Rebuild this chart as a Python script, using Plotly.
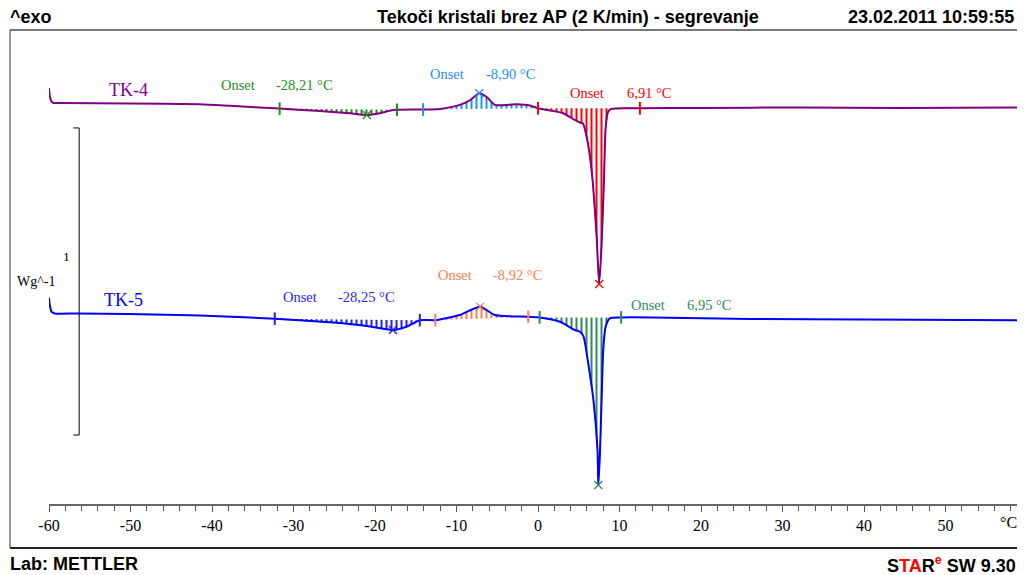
import numpy as np
import plotly.graph_objects as go

# ---------------- data ----------------
# TK-4 curve: temperature (°C) and heat flow (W/g, relative)
temp4 = [-60.0, -59.9, -59.7, -59.5, -58.7, -50.1, -41.5, -37.8, -31.7, -27.2,
         -23.1, -21.0, -19.4, -18.2, -17.3, -14.1, -12.0, -9.6, -8.3, -7.2,
         -6.3, -5.3, -2.6, -1.0, 0.0, 1.5, 3.1, 4.5, 5.2, 5.5,
         6.0, 6.6, 7.2, 7.5, 7.8, 8.1, 8.3, 8.6, 9.0, 12.5,
         19.9, 32.1, 44.4, 59.1]
hf4 = [0.065, 0.039, 0.021, 0.017, 0.016, 0.015, 0.012, 0.007, -0.002, -0.009,
       -0.017, -0.023, -0.017, -0.009, -0.006, -0.005, -0.003, 0.010, 0.026, 0.048,
       0.036, 0.010, 0.012, 0.008, -0.001, -0.008, -0.017, -0.039, -0.048, -0.050,
       -0.098, -0.208, -0.423, -0.573, -0.446, -0.228, -0.065, -0.012, -0.003, -0.001,
       0.000, 0.002, 0.000, 0.002]

# TK-5 curve
temp5 = [-60.0, -59.9, -59.7, -59.3, -56.4, -44.2, -41.5, -32.3, -25.1, -21.0,
         -17.8, -16.1, -14.5, -12.6, -9.6, -7.1, -5.3, -1.2, 0.2, 2.7,
         4.5, 5.2, 5.6, 6.1, 6.8, 7.3, 7.4, 7.6, 7.8, 8.0,
         8.3, 8.8, 10.2, 14.0, 26.0, 40.0, 59.1]
hf5 = [0.066, 0.042, 0.021, 0.015, 0.015, 0.010, 0.008, -0.002, -0.015, -0.026,
       -0.039, -0.028, -0.007, -0.007, 0.010, 0.037, 0.010, 0.004, 0.002, -0.012,
       -0.039, -0.045, -0.061, -0.137, -0.267, -0.430, -0.544, -0.440, -0.267, -0.104,
       -0.028, -0.001, 0.002, 0.002, -0.003, -0.005, -0.007]

# integration limits (°C) and onset results
limits4 = [(-31.7, -17.3), (-14.1, 0.0), (0.0, 12.5)]
limits5 = [(-32.3, -14.5), (-12.6, -1.2), (0.2, 10.2)]
onset4 = [-28.21, -8.90, 6.91]
onset5 = [-28.25, -8.92, 6.95]

x_ticks = [-60, -50, -40, -30, -20, -10, 0, 10, 20, 30, 40, 50]
x_tick_text = ["-60", "-50", "-40", "-30", "-20", "-10", "0", "10", "20", "30", "40", "50"]
scale_bar = 1.0  # W/g

# ---------------- styling ----------------
C4 = "#800080"
C5 = "#0000FF"
cols4 = ["#228B22", "#1E90FF", "#FF0000"]
cols5 = ["#1F1FFF", "#FF7F50", "#2E8B57"]
off4 = 0.684  # vertical display offset of TK-4
SERIF = "Liberation Serif"
SANS = "Liberation Sans"
SMOOTH = 0.6

# the page body has an 8px default margin: the figure is shifted by it
OFF = 8
FW, FH = 1025 - OFF, 575 - OFF
# plot area in page pixels
PX0, PX1, PY0, PY1 = 49, 1020, 30, 548
L, R, T_, B = PX0 - OFF, FW - (PX1 - OFF), PY0 - OFF, FH - (PY1 - OFF)
PW, PH = PX1 - PX0, PY1 - PY0


def px(xp):
    return (xp - PX0) / PW


def py(yp):
    return (PY1 - yp) / PH


fig = go.Figure()


def add_curve(T, H, off, col, limits, cols):
    T = np.array(T)
    H = np.array(H) + off
    # hatched integration areas
    for (a, b), c in zip(limits, cols):
        m = (T >= a - 1e-9) & (T <= b + 1e-9)
        ts, hs = T[m], H[m]
        fig.add_trace(go.Scatter(
            x=list(ts), y=list(hs), mode="lines", fill="toself",
            fillcolor="rgba(0,0,0,0)",
            fillpattern=dict(shape="|", fgcolor=c, fgopacity=1, size=5, solidity=0.4),
            line=dict(color=c, width=1, shape="spline", smoothing=SMOOTH),
            hoverinfo="skip"))
    # the curve
    fig.add_trace(go.Scatter(x=list(T), y=list(H), mode="lines",
                             line=dict(color=col, width=2, shape="spline", smoothing=SMOOTH),
                             hoverinfo="skip"))
    for (a, b), c in zip(limits, cols):
        m = (T >= a - 1e-9) & (T <= b + 1e-9)
        ts, hs = T[m], H[m]
        base = hs[0] + (hs[-1] - hs[0]) * (ts - ts[0]) / (ts[-1] - ts[0])
        k = int(np.argmax(np.abs(hs - base)))
        fig.add_trace(go.Scatter(
            x=[ts[0], ts[-1]], y=[hs[0], hs[-1]], mode="markers",
            marker=dict(symbol="line-ns", size=9, line=dict(color=c, width=2)),
            cliponaxis=False, hoverinfo="skip"))
        fig.add_trace(go.Scatter(
            x=[ts[k]], y=[hs[k]], mode="markers",
            marker=dict(symbol="x-thin", size=8, line=dict(color=c, width=1.3)),
            cliponaxis=False, hoverinfo="skip"))


add_curve(temp4, hf4, off4, C4, limits4, cols4)
add_curve(temp5, hf5, 0.0, C5, limits5, cols5)

# scale bar (1 W/g)
sb_top, sb_x = 0.619, -56.3
fig.add_trace(go.Scatter(
    x=[sb_x - 0.7, sb_x, sb_x, sb_x - 0.7],
    y=[sb_top, sb_top, sb_top - scale_bar, sb_top - scale_bar],
    mode="lines", line=dict(color="black", width=1), hoverinfo="skip"))


def fmt(v):
    return ("%.2f" % v).replace(".", ",") + " °C"


ann = []


def txt(x, y, s, col, size=14.5, xref="x", yref="y", xanchor="center",
        yanchor="middle", family=SERIF, bold=False):
    ann.append(dict(x=x, y=y, xref=xref, yref=yref, text=("<b>%s</b>" % s) if bold else s,
                    showarrow=False, xanchor=xanchor, yanchor=yanchor,
                    font=dict(family=family, size=size, color=col)))


# onset labels
pos4 = [((-36.8, -28.6), 0.759), ((-11.2, -3.4), 0.795), ((6.0, 13.6), 0.733)]
pos5 = [((-29.2, -21.0), 0.068), ((-10.2, -2.5), 0.140), ((13.5, 21.0), 0.042)]
for (xs, y), v, c in zip(pos4, onset4, cols4):
    txt(xs[0], y, "Onset", c)
    txt(xs[1], y, fmt(v), c)
for (xs, y), v, c in zip(pos5, onset5, cols5):
    txt(xs[0], y, "Onset", c)
    txt(xs[1], y, fmt(v), c)

txt(-50.3, 0.743, "TK-4", C4, size=18)
txt(-50.9, 0.059, "TK-5", C5, size=18)
txt(-57.9, 0.199, "1", "#000000", size=13.5)
txt(px(36), py(281), "Wg^-1", "black", size=14, xref="paper", yref="paper")

txt(57.7, py(522), "°C", "black", size=16, yref="paper")
txt(px(8), py(17), "^exo", "black", size=18, xref="paper", yref="paper",
    xanchor="left", family=SANS, bold=True)
txt(px(568), py(17), "Tekoči kristali brez AP (2 K/min) - segrevanje", "black",
    size=18, xref="paper", yref="paper", family=SANS, bold=True)
txt(px(1016), py(17), "23.02.2011 10:59:55", "black", size=18, xref="paper",
    yref="paper", xanchor="right", family=SANS, bold=True)
txt(px(8), py(564), "Lab: METTLER", "black", size=18, xref="paper", yref="paper",
    xanchor="left", family=SANS, bold=True)
txt(px(1018), py(564),
    "S<span style='color:red'>TA</span>R<sup><span style='color:red'>e</span></sup> SW 9.30",
    "black", size=18, xref="paper", yref="paper", xanchor="right", family=SANS, bold=True)

shapes = [
    dict(type="line", xref="paper", yref="paper", x0=px(10), x1=px(1030), y0=py(30), y1=py(30),
         line=dict(color="#777777", width=2)),
    dict(type="line", xref="paper", yref="paper", x0=px(10), x1=px(10), y0=py(30), y1=py(548),
         line=dict(color="#333333", width=1)),
    dict(type="line", xref="paper", yref="paper", x0=px(10), x1=px(1030), y0=py(548), y1=py(548),
         line=dict(color="#222222", width=2)),
]

fig.update_layout(
    width=FW, height=FH,
    margin=dict(l=L, r=R, t=T_, b=B, pad=0),
    paper_bgcolor="white", plot_bgcolor="white",
    showlegend=False,
    annotations=ann, shapes=shapes,
    xaxis=dict(range=[-60, 59.14], tickvals=x_ticks, ticktext=x_tick_text,
               ticks="outside", ticklen=6,
               tickcolor="#555555", tickwidth=1, showline=True, linecolor="#666666",
               linewidth=2, showgrid=False, zeroline=False, anchor="free",
               position=py(505), tickfont=dict(family=SERIF, size=16, color="black"),
               minor=dict(dtick=2, tick0=-60, ticks="outside", ticklen=5, tickcolor="#555555",
                          showgrid=False)),
    yaxis=dict(range=[-0.749, 0.938], visible=False, showgrid=False, zeroline=False),
)

fig.write_html("out.html")
